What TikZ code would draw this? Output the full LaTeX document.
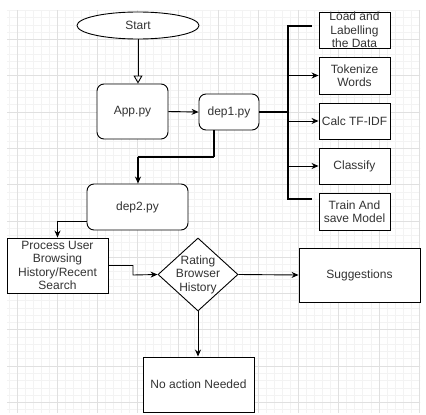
\documentclass[tikz,border=0pt]{standalone}
\usepackage{fontspec}
\setmainfont{Liberation Sans}
\usetikzlibrary{shapes.geometric,arrows.meta}
\definecolor{txt}{HTML}{333333}
\definecolor{gminor}{HTML}{F3F3F3}
\definecolor{gmajor}{HTML}{E0E0E0}
\begin{document}
\begin{tikzpicture}[x=1pt,y=-1pt,
  every node/.style={font=\fontsize{12}{13.4}\selectfont,text=txt,align=center,inner sep=0pt},
  box/.style={draw=black,line width=0.9pt,fill=white},
  rbox/.style={box,rounded corners=7pt},
  arr/.style={draw=black,line width=0.9pt,-{Stealth[length=7pt,width=6pt]}},
  thk/.style={draw=black,line width=2.2pt}]
\useasboundingbox (0,0) rectangle (426,415);
% grid
\begin{scope}
\clip (7,10) rectangle (420,412);
\foreach \k in {-1,...,51} \draw[gminor,line width=0.5pt] (17+8.04*\k,0) -- (17+8.04*\k,415);
\foreach \k in {-4,...,52} \draw[gminor,line width=0.5pt] (0,39.3+7.26*\k) -- (426,39.3+7.26*\k);
\foreach \k in {0,...,10} \draw[gmajor,line width=0.5pt] (17+40.2*\k,0) -- (17+40.2*\k,415);
\foreach \k in {0,...,10} \draw[gmajor,line width=0.5pt] (0,39.3+36.3*\k) -- (426,39.3+36.3*\k);
\end{scope}
% nodes
\node[box,ellipse,minimum width=122pt,minimum height=27pt] (start) at (138,25.5) {Start};
\node[rbox,minimum width=71pt,minimum height=55pt] (app) at (132.5,111.5) {App.py};
\node[rbox,minimum width=60pt,minimum height=36pt] (dep1) at (229,112) {dep1.py};
\node[box,minimum width=71pt,minimum height=36pt] (load) at (354.5,30) {};
\node (loadt) at (354.5,30) {Load and\\Labelling\\the Data};
\node[box,minimum width=71pt,minimum height=37pt] (tok) at (354.5,75.5) {Tokenize\\Words};
\node[box,minimum width=71pt,minimum height=36pt] (calc) at (354.5,121) {Calc TF-IDF};
\node[box,minimum width=71pt,minimum height=36pt] (cls) at (354.5,166) {Classify};
\node[box,minimum width=71pt,minimum height=37pt] (train) at (354.5,211.5) {Train And\\save Model};
\node[rbox,minimum width=101pt,minimum height=46pt] (dep2) at (137.5,207) {dep2.py};
\node[box,minimum width=101pt,minimum height=55pt] (proc) at (57.5,265.5) {Process User\\Browsing\\History/Recent\\Search};
\node[box,diamond,minimum width=80pt,minimum height=73pt] (dia) at (198,274.5) {};
\node (diat) at (198,274.5) {Rating\\Browser\\History};
\node[box,minimum width=121pt,minimum height=54pt] (sugg) at (359.5,275) {Suggestions};
\node[box,minimum width=111pt,minimum height=55pt] (noact) at (198.5,384.5) {No action Needed};
% coordinates
\coordinate (bt) at (288,26);
\coordinate (bb) at (288,199);
\coordinate (te) at (312,26);
\coordinate (be) at (312,199);
\coordinate (d1) at (214,130);
\coordinate (d2) at (214,157);
\coordinate (d3) at (138,157);
\coordinate (k1) at (133,265.5);
\coordinate (k2) at (133,275);
% connectors
\draw[draw=black,line width=0.9pt,-{Triangle[open,length=8pt,width=9pt]}] (start.south) -- (start.south |- app.north);
\draw[arr] (app.east) -- (dep1.west);
\draw[thk] (dep1.east) -- (dep1.east -| bt);
\draw[thk] (te) -- (bt) -- (bb) -- (be);
\draw[arr] (bt |- tok.west) -- (tok.west);
\draw[arr] (bt |- calc.west) -- (calc.west);
\draw[arr] (bt |- cls.west) -- (cls.west);
\draw[line width=1.8pt] (d1) -- (d2);
\draw[line width=1.1pt] (d2) -- (d3);
\draw[arr,line width=1.1pt] (d3) -- (d3 |- dep2.north);
\draw[arr] ([yshift=-14pt]dep2.west) -| (proc.north);
\draw[arr] (proc.east) -- (k1) -- (k2) -- (dia.west);
\draw[arr] (dia.east) -- (sugg.west);
\draw[arr] (dia.south) -- (dia.south |- noact.north);
\end{tikzpicture}
\end{document}
